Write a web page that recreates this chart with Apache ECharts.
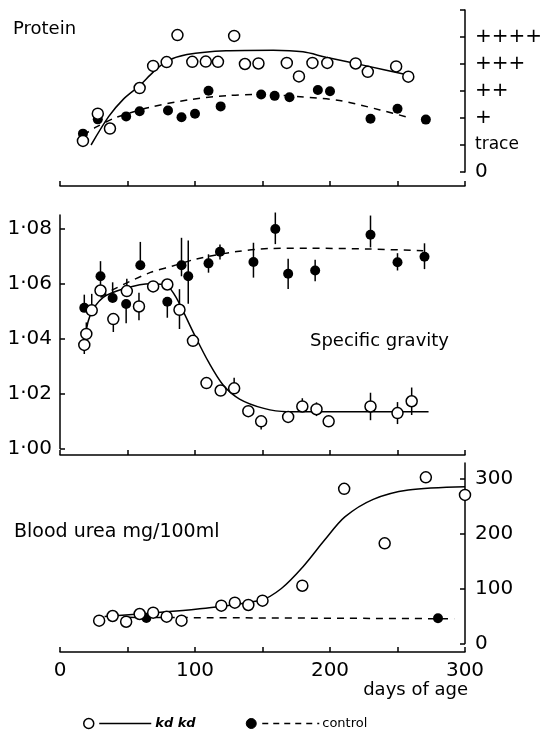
<!DOCTYPE html>
<html><head><meta charset="utf-8">
<script src="https://cdn.jsdelivr.net/npm/echarts@6/dist/echarts.min.js"></script>
<style>html,body{margin:0;padding:0;background:#fff}#c{width:552px;height:732px}</style>
</head><body><div id="c"></div>
<script>
// ---------- data ----------
// Protein panel (0 = none ... 5 = ++++)
const proteinTickValues = [0, 1, 2, 3, 4, 5, 6];
const proteinTickLabels = ['0', 'trace', '+', '++', '+++', '++++', ''];
const proteinKdDays = [17, 28, 37, 59, 69, 79, 87, 98, 108, 117, 129, 137, 147, 168, 177, 187, 198, 219, 228, 249, 258];
const proteinKdValues = [1.15, 2.16, 1.61, 3.11, 3.93, 4.07, 5.07, 4.08, 4.09, 4.08, 5.04, 4.0, 4.02, 4.04, 3.54, 4.04, 4.04, 4.02, 3.71, 3.91, 3.53];
const proteinCtlDays = [17, 28, 49, 59, 80, 90, 100, 110, 119, 149, 159, 170, 191, 200, 230, 250, 271];
const proteinCtlValues = [1.42, 1.95, 2.06, 2.25, 2.28, 2.03, 2.16, 3.01, 2.43, 2.87, 2.82, 2.77, 3.04, 2.99, 1.97, 2.34, 1.94];
const proteinKdCurveDays = [23, 36, 47, 59, 69, 79, 94, 123, 158, 180, 197, 227, 257];
const proteinKdCurveValues = [1.0, 2.05, 2.7, 3.2, 3.7, 4.1, 4.35, 4.49, 4.51, 4.45, 4.25, 3.93, 3.6];
const proteinCtlCurveDays = [17, 27, 42, 67, 96, 124, 143, 160, 178, 207, 237, 259];
const proteinCtlCurveValues = [1.36, 1.67, 2.03, 2.4, 2.68, 2.83, 2.87, 2.85, 2.79, 2.65, 2.3, 2.01];

// Specific gravity panel
const sgTickValues = [1.00, 1.02, 1.04, 1.06, 1.08];
const sgKdDays = [18, 19.5, 23.5, 30, 39.5, 49.5, 58.5, 69, 79.5, 88.5, 98.5, 108.5, 119, 129, 139.5, 149, 169, 179.5, 190, 199, 230, 250, 260.5];
const sgKdValues = [1.0377, 1.0417, 1.0503, 1.0575, 1.0471, 1.0573, 1.0517, 1.0590, 1.0597, 1.0505, 1.0392, 1.0238, 1.0211, 1.0219, 1.0136, 1.0099, 1.0115, 1.0153, 1.0143, 1.0099, 1.0153, 1.0129, 1.0172];
const sgKdErrUp = [0.003, 0.0042, 0.006, 0.004, 0, 0.0045, 0.005, 0.002, 0.002, 0.0075, 0.002, 0.0018, 0.002, 0.0039, 0.002, 0.001, 0.002, 0.003, 0.0025, 0.0015, 0.005, 0.004, 0.005];
const sgKdErrDown = [0.0033, 0, 0.002, 0.002, 0.0047, 0, 0.005, 0.002, 0.002, 0.007, 0.002, 0.0018, 0.002, 0.001, 0.002, 0.003, 0.002, 0.0015, 0.0025, 0.002, 0.005, 0.004, 0.005];
const sgCtlDays = [18, 30, 39, 49, 59.5, 79.5, 90, 95, 110, 118.5, 143.3, 159.5, 169, 189, 230, 250, 270];
const sgCtlValues = [1.0512, 1.0627, 1.0548, 1.0526, 1.0667, 1.0534, 1.0667, 1.0627, 1.0674, 1.0716, 1.0679, 1.0799, 1.0636, 1.0648, 1.0778, 1.0678, 1.0698];
const sgCtlErrUp = [0.0048, 0.0055, 0.0057, 0, 0.0085, 0, 0.01, 0.013, 0.0033, 0.0027, 0.007, 0.006, 0.0055, 0.0039, 0.007, 0.0033, 0.0049];
const sgCtlErrDown = [0, 0, 0, 0.007, 0, 0.0058, 0.004, 0.01, 0.0034, 0.0028, 0.0057, 0.0055, 0.0055, 0.0039, 0.0046, 0.003, 0.0045];
const sgKdCurveDays = [18, 22, 32, 49, 67, 79, 86, 99, 110, 121, 133, 151, 168, 185, 273];
const sgKdCurveValues = [1.038, 1.048, 1.055, 1.0584, 1.060, 1.0593, 1.055, 1.042, 1.0315, 1.023, 1.018, 1.0146, 1.0134, 1.0134, 1.0134];
const sgCtlCurveDays = [30, 40, 67, 84, 101, 131, 156, 184, 230, 269];
const sgCtlCurveValues = [1.055, 1.058, 1.0641, 1.0665, 1.069, 1.0717, 1.0728, 1.0729, 1.0726, 1.072];

// Blood urea panel (mg/100 ml)
const ureaTickValues = [0, 100, 200, 300];
const ureaKdDays = [29, 39, 49, 59, 69, 79, 90, 119.5, 129.5, 139.5, 150, 179.5, 210.5, 240.5, 271, 300];
const ureaKdValues = [41.5, 50, 39.6, 53.6, 56, 48.7, 41.5, 68.7, 74.2, 70, 77.8, 105, 281, 182, 302, 270];
const ureaCtlDays = [64, 280];
const ureaCtlValues = [46.4, 45.8];
const ureaKdCurveDays = [33, 65, 102, 149, 164, 180, 196, 211, 232, 258, 300];
const ureaKdCurveValues = [49, 55, 62.7, 79, 100, 139.5, 188, 230, 262, 279, 285];
const ureaCtlCurveDays = [51, 292];
const ureaCtlCurveValues = [47.5, 45];

// Age axis
const ageTickValues = [0, 50, 100, 150, 200, 250, 300];
const ageLabelValues = [0, 100, 200, 300];

// ---------- helpers ----------
const zip = (a, b) => a.map((v, i) => [v, b[i]]);
const zip4 = (a, b, c, d) => a.map((v, i) => [v, b[i], c[i], d[i]]);
const FONT = 'DejaVu Sans';
const L = 60, R = 87;
const black = '#000';

function hiddenX(gi) {
  return { gridIndex: gi, type: 'value', min: 0, max: 300, show: false };
}
function shownX(gi, labels) {
  return {
    gridIndex: gi, type: 'value', min: 0, max: 300, position: 'bottom',
    axisLine: { show: true, onZero: false, lineStyle: { color: black, width: 1.5 } },
    axisTick: { show: true, inside: true, length: 5, customValues: ageTickValues, lineStyle: { color: black, width: 1.5 } },
    axisLabel: labels ? { show: true, customValues: ageLabelValues, color: black, fontFamily: FONT, fontSize: 20, margin: 9 } : { show: false },
    splitLine: { show: false }
  };
}
function hiddenY(gi) {
  return { gridIndex: gi, type: 'value', min: 0, max: 1, show: false };
}
function openScatter(xi, data, size) {
  return { type: 'scatter', xAxisIndex: xi, yAxisIndex: xi, data, symbol: 'circle', symbolSize: size || 11, z: 5,
    itemStyle: { color: '#fff', borderColor: black, borderWidth: 1.5, opacity: 1 }, clip: false };
}
function filledScatter(xi, data, size) {
  return { type: 'scatter', xAxisIndex: xi, yAxisIndex: xi, data, symbol: 'circle', symbolSize: size || 10, z: 4,
    itemStyle: { color: black, borderColor: black, borderWidth: 0, opacity: 1 }, clip: false };
}
function curve(xi, data, dashed) {
  return { type: 'line', xAxisIndex: xi, yAxisIndex: xi, data, showSymbol: false, smooth: 0.3, z: 2,
    lineStyle: { color: black, width: 1.5, opacity: 1, type: dashed ? [7, 6] : 'solid' } };
}
function errBars(xi, data) {
  return { type: 'custom', xAxisIndex: xi, yAxisIndex: xi, data, z: 3,
    renderItem: function (params, api) {
      const x = api.value(0), y = api.value(1);
      const top = api.coord([x, y + api.value(2)]);
      const bot = api.coord([x, y - api.value(3)]);
      return { type: 'line', shape: { x1: top[0], y1: top[1], x2: bot[0], y2: bot[1] },
        style: { stroke: black, lineWidth: 1.5 } };
    } };
}
function yAxisCfg(gi, min, max, pos, ticks, extraLabel) {
  return Object.assign({ gridIndex: gi, type: 'value', min, max, position: pos,
    axisLine: { show: true, onZero: false, lineStyle: { color: black, width: 1.5 } },
    axisTick: { show: true, inside: true, length: 5, customValues: ticks, lineStyle: { color: black, width: 1.5 } },
    splitLine: { show: false } }, extraLabel);
}

const chart = echarts.init(document.getElementById('c'), null, { renderer: 'canvas' });
chart.setOption({
  animation: false,
  backgroundColor: '#fff',
  grid: [
    { left: L, right: R, top: 10, height: 162 },
    { left: L, right: R, top: 176, height: 10 },
    { left: L, right: R, top: 215, height: 233.5 },
    { left: L, right: R, top: 445, height: 10 },
    { left: L, right: R, top: 463, height: 180.5 },
    { left: L, right: R, top: 642, height: 10 }
  ],
  xAxis: [hiddenX(0), shownX(1, false), hiddenX(2), shownX(3, false), hiddenX(4), shownX(5, true)],
  yAxis: [
    yAxisCfg(0, 0, 6, 'right', proteinTickValues, {
      axisLabel: { show: true, customValues: proteinTickValues, margin: 10, color: black,
        formatter: function (v) {
          const s = proteinTickLabels[Math.round(v)];
          if (!s) return '';
          if (s === 'trace') return '{t|' + s + '}';
          return '{p|' + s + '}';
        },
        rich: {
          t: { fontFamily: FONT, fontSize: 17, color: black },
          p: { fontFamily: FONT, fontSize: 20, color: black }
        } } }),
    hiddenY(1),
    yAxisCfg(2, 1.0, 1.085, 'left', sgTickValues, {
      axisLabel: { show: true, customValues: sgTickValues, margin: 8, color: black, fontFamily: FONT, fontSize: 20,
        formatter: v => v.toFixed(2).replace('.', '\u00b7') } }),
    hiddenY(3),
    yAxisCfg(4, 0, 328, 'right', ureaTickValues, {
      axisLabel: { show: true, customValues: ureaTickValues, margin: 10, color: black, fontFamily: FONT, fontSize: 20 } }),
    hiddenY(5)
  ],
  series: [
    // protein
    curve(0, zip(proteinCtlCurveDays, proteinCtlCurveValues), true),
    curve(0, zip(proteinKdCurveDays, proteinKdCurveValues), false),
    filledScatter(0, zip(proteinCtlDays, proteinCtlValues), 10),
    openScatter(0, zip(proteinKdDays, proteinKdValues), 11),
    // specific gravity
    curve(2, zip(sgCtlCurveDays, sgCtlCurveValues), true),
    curve(2, zip(sgKdCurveDays, sgKdCurveValues), false),
    errBars(2, zip4(sgCtlDays, sgCtlValues, sgCtlErrUp, sgCtlErrDown)),
    errBars(2, zip4(sgKdDays, sgKdValues, sgKdErrUp, sgKdErrDown)),
    filledScatter(2, zip(sgCtlDays, sgCtlValues), 10),
    openScatter(2, zip(sgKdDays, sgKdValues), 11),
    // blood urea
    curve(4, zip(ureaCtlCurveDays, ureaCtlCurveValues), true),
    curve(4, zip(ureaKdCurveDays, ureaKdCurveValues), false),
    filledScatter(4, zip(ureaCtlDays, ureaCtlValues), 10),
    openScatter(4, zip(ureaKdDays, ureaKdValues), 11)
  ],
  graphic: [
    { type: 'text', left: 13, top: 20, style: { text: 'Protein', fill: black, font: '18px "DejaVu Sans"' } },
    { type: 'text', left: 310, top: 332, style: { text: 'Specific gravity', fill: black, font: '18px "DejaVu Sans"' } },
    { type: 'text', left: 14, top: 523, style: { text: 'Blood urea mg/100ml', fill: black, font: '19px "DejaVu Sans"' } },
    { type: 'text', right: 84, top: 681, style: { text: 'days of age', fill: black, font: '18px "DejaVu Sans"' } },
    // legend
    { type: 'group', left: 83, top: 717, children: [
      { type: 'circle', shape: { cx: 5.5, cy: 6.5, r: 5 }, style: { fill: '#fff', stroke: black, lineWidth: 1.5 } },
      { type: 'line', shape: { x1: 16, y1: 6.5, x2: 68, y2: 6.5 }, style: { stroke: black, lineWidth: 1.5 } },
      { type: 'text', x: 72, y: 0, style: { text: 'kd kd', fill: black, font: 'italic bold 13px "DejaVu Sans"' } },
      { type: 'circle', shape: { cx: 168, cy: 6.5, r: 5 }, style: { fill: black, stroke: black, lineWidth: 1 } },
      { type: 'line', shape: { x1: 179, y1: 6.5, x2: 236, y2: 6.5 }, style: { stroke: black, lineWidth: 1.5, lineDash: [6, 5] } },
      { type: 'text', x: 239, y: 0, style: { text: 'control', fill: black, font: '13px "DejaVu Sans"' } }
    ] }
  ]
});
</script>
</body></html>
